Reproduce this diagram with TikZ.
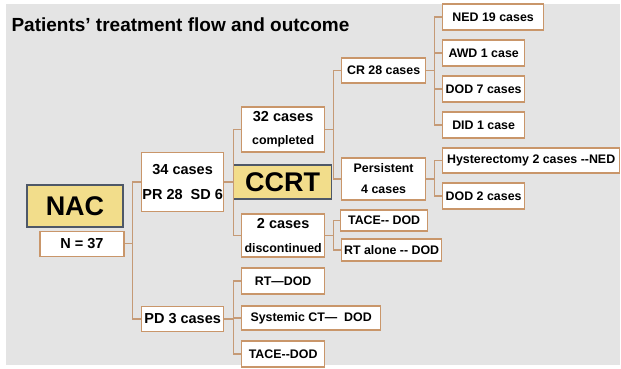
\documentclass[tikz,border=0pt]{standalone}
\usepackage{fontspec}
\setmainfont{Liberation Sans}
\usepackage{tikz}
\usetikzlibrary{positioning}
\definecolor{PanelGray}{HTML}{E4E4E4}
\definecolor{BoxBrown}{HTML}{C9966A}
\definecolor{LinkBrown}{HTML}{C59A76}
\definecolor{StageYellow}{HTML}{F2DD8B}
\definecolor{StageSlate}{HTML}{4E5868}
\newcommand{\bigtxt}{\fontsize{14.5}{17}\selectfont}
\newcommand{\smalltxt}{\fontsize{12.4}{14}\selectfont}
\tikzset{
  stagebox/.style={rectangle, draw=StageSlate, fill=StageYellow, line width=1.3pt, inner sep=0pt, font=\fontsize{27}{30}\selectfont\bfseries},
  casebox/.style={rectangle, draw=BoxBrown, fill=white, line width=1.3pt, inner sep=0pt, align=center, font=\bigtxt\bfseries},
  leafbox/.style={rectangle, draw=BoxBrown, fill=white, line width=1.3pt, inner sep=0pt, minimum height=26, align=center, font=\smalltxt\bfseries},
  link/.style={draw=LinkBrown, line width=1.2pt}
}

\begin{document}
\begin{tikzpicture}[x=1pt, y=-1pt]
  \useasboundingbox (0,0) rectangle (621,368);
  \fill[PanelGray] (6,4) rectangle (620,365);

  \node[anchor=base west, font=\fontsize{19}{22}\selectfont\bfseries] (title) at (8,31) {Patients' treatment flow and outcome};

  % NAC stage
  \node[stagebox, minimum width=96, minimum height=42] (nac) at (75,206) {NAC};
  \node[casebox, minimum width=84, minimum height=25, below=3pt of nac, xshift=7pt] (n37) {N = 37};

  \node[casebox, anchor=west, minimum width=82, minimum height=59] (c34) at (141,182) {34 cases\\[8pt]PR 28\ \ SD 6};
  \node[casebox, anchor=west, minimum width=82, minimum height=25] (pd) at (141,319) {PD 3 cases};

  % CCRT stage
  \node[stagebox, anchor=west, minimum width=98, minimum height=34] (ccrt) at (233,182) {CCRT};
  \node[casebox, anchor=west, minimum width=83, minimum height=45] (done) at (241,129.5) {32 cases\\[6pt]{\smalltxt completed}};
  \node[casebox, anchor=west, minimum width=83, minimum height=43] (disc) at (241,235.5) {2 cases\\[7pt]{\smalltxt discontinued}};

  \node[leafbox, anchor=west, minimum width=84, minimum height=25] (cr) at (341,70.5) {CR 28 cases};
  \node[leafbox, anchor=west, minimum width=84, minimum height=42] (persist) at (341,179) {Persistent\\[7pt]4 cases};

  % outcomes
  \node[leafbox, anchor=west, minimum width=101] (ned) at (442,17) {NED 19 cases};
  \node[leafbox, anchor=west, minimum width=82] (awd) at (442,53) {AWD 1 case};
  \node[leafbox, anchor=west, minimum width=82] (dod7) at (442,89) {DOD 7 cases};
  \node[leafbox, anchor=west, minimum width=82] (did) at (442,125) {DID 1 case};
  \node[leafbox, anchor=west, minimum width=177, minimum height=25] (hyst) at (442,160.5) {Hysterectomy 2 cases -{}-NED};
  \node[leafbox, anchor=west, minimum width=82] (dod2) at (442,196) {DOD 2 cases};

  \node[leafbox, anchor=west, minimum width=87, minimum height=21] (tace1) at (340,220.5) {TACE-{}- DOD};
  \node[leafbox, anchor=west, minimum width=100, minimum height=22] (rtal) at (341,250) {RT alone -{}- DOD};

  \node[leafbox, anchor=west, minimum width=83] (rtdod) at (241,281) {RT—DOD};
  \node[leafbox, anchor=west, minimum width=139, minimum height=24] (sysct) at (241,318) {Systemic CT—\ \ DOD};
  \node[leafbox, anchor=west, minimum width=83] (tace2) at (241,354) {TACE-{}-DOD};

  \draw[link] (n37.east) -- ++(8,0) |- (c34.west);
  \draw[link] (n37.east) -- ++(8,0) |- (pd.west);

  \draw[link] (c34.east) -- (ccrt.west);
  \draw[link] (c34.east) -- ++(9,0) |- (done.west);
  \draw[link] (c34.east) -- ++(9,0) |- (disc.west);

  \draw[link] (done.east) -- ++(8,0) |- (cr.west);
  \draw[link] (done.east) -- ++(8,0) |- (persist.west);

  \draw[link] (cr.east) -- ++(8,0) |- (ned.west);
  \draw[link] (cr.east) -- ++(8,0) |- (awd.west);
  \draw[link] (cr.east) -- ++(8,0) |- (dod7.west);
  \draw[link] (cr.east) -- ++(8,0) |- (did.west);

  \draw[link] (persist.east) -- ++(8,0) |- (hyst.west);
  \draw[link] (persist.east) -- ++(8,0) |- (dod2.west);

  \draw[link] (disc.east) -- ++(8,0) |- (tace1.west);
  \draw[link] (disc.east) -- ++(8,0) |- (rtal.west);

  \draw[link] (pd.east) -- ++(9,0) |- (rtdod.west);
  \draw[link] (pd.east) -- ++(9,0) |- (sysct.west);
  \draw[link] (pd.east) -- ++(9,0) |- (tace2.west);
\end{tikzpicture}
\end{document}
